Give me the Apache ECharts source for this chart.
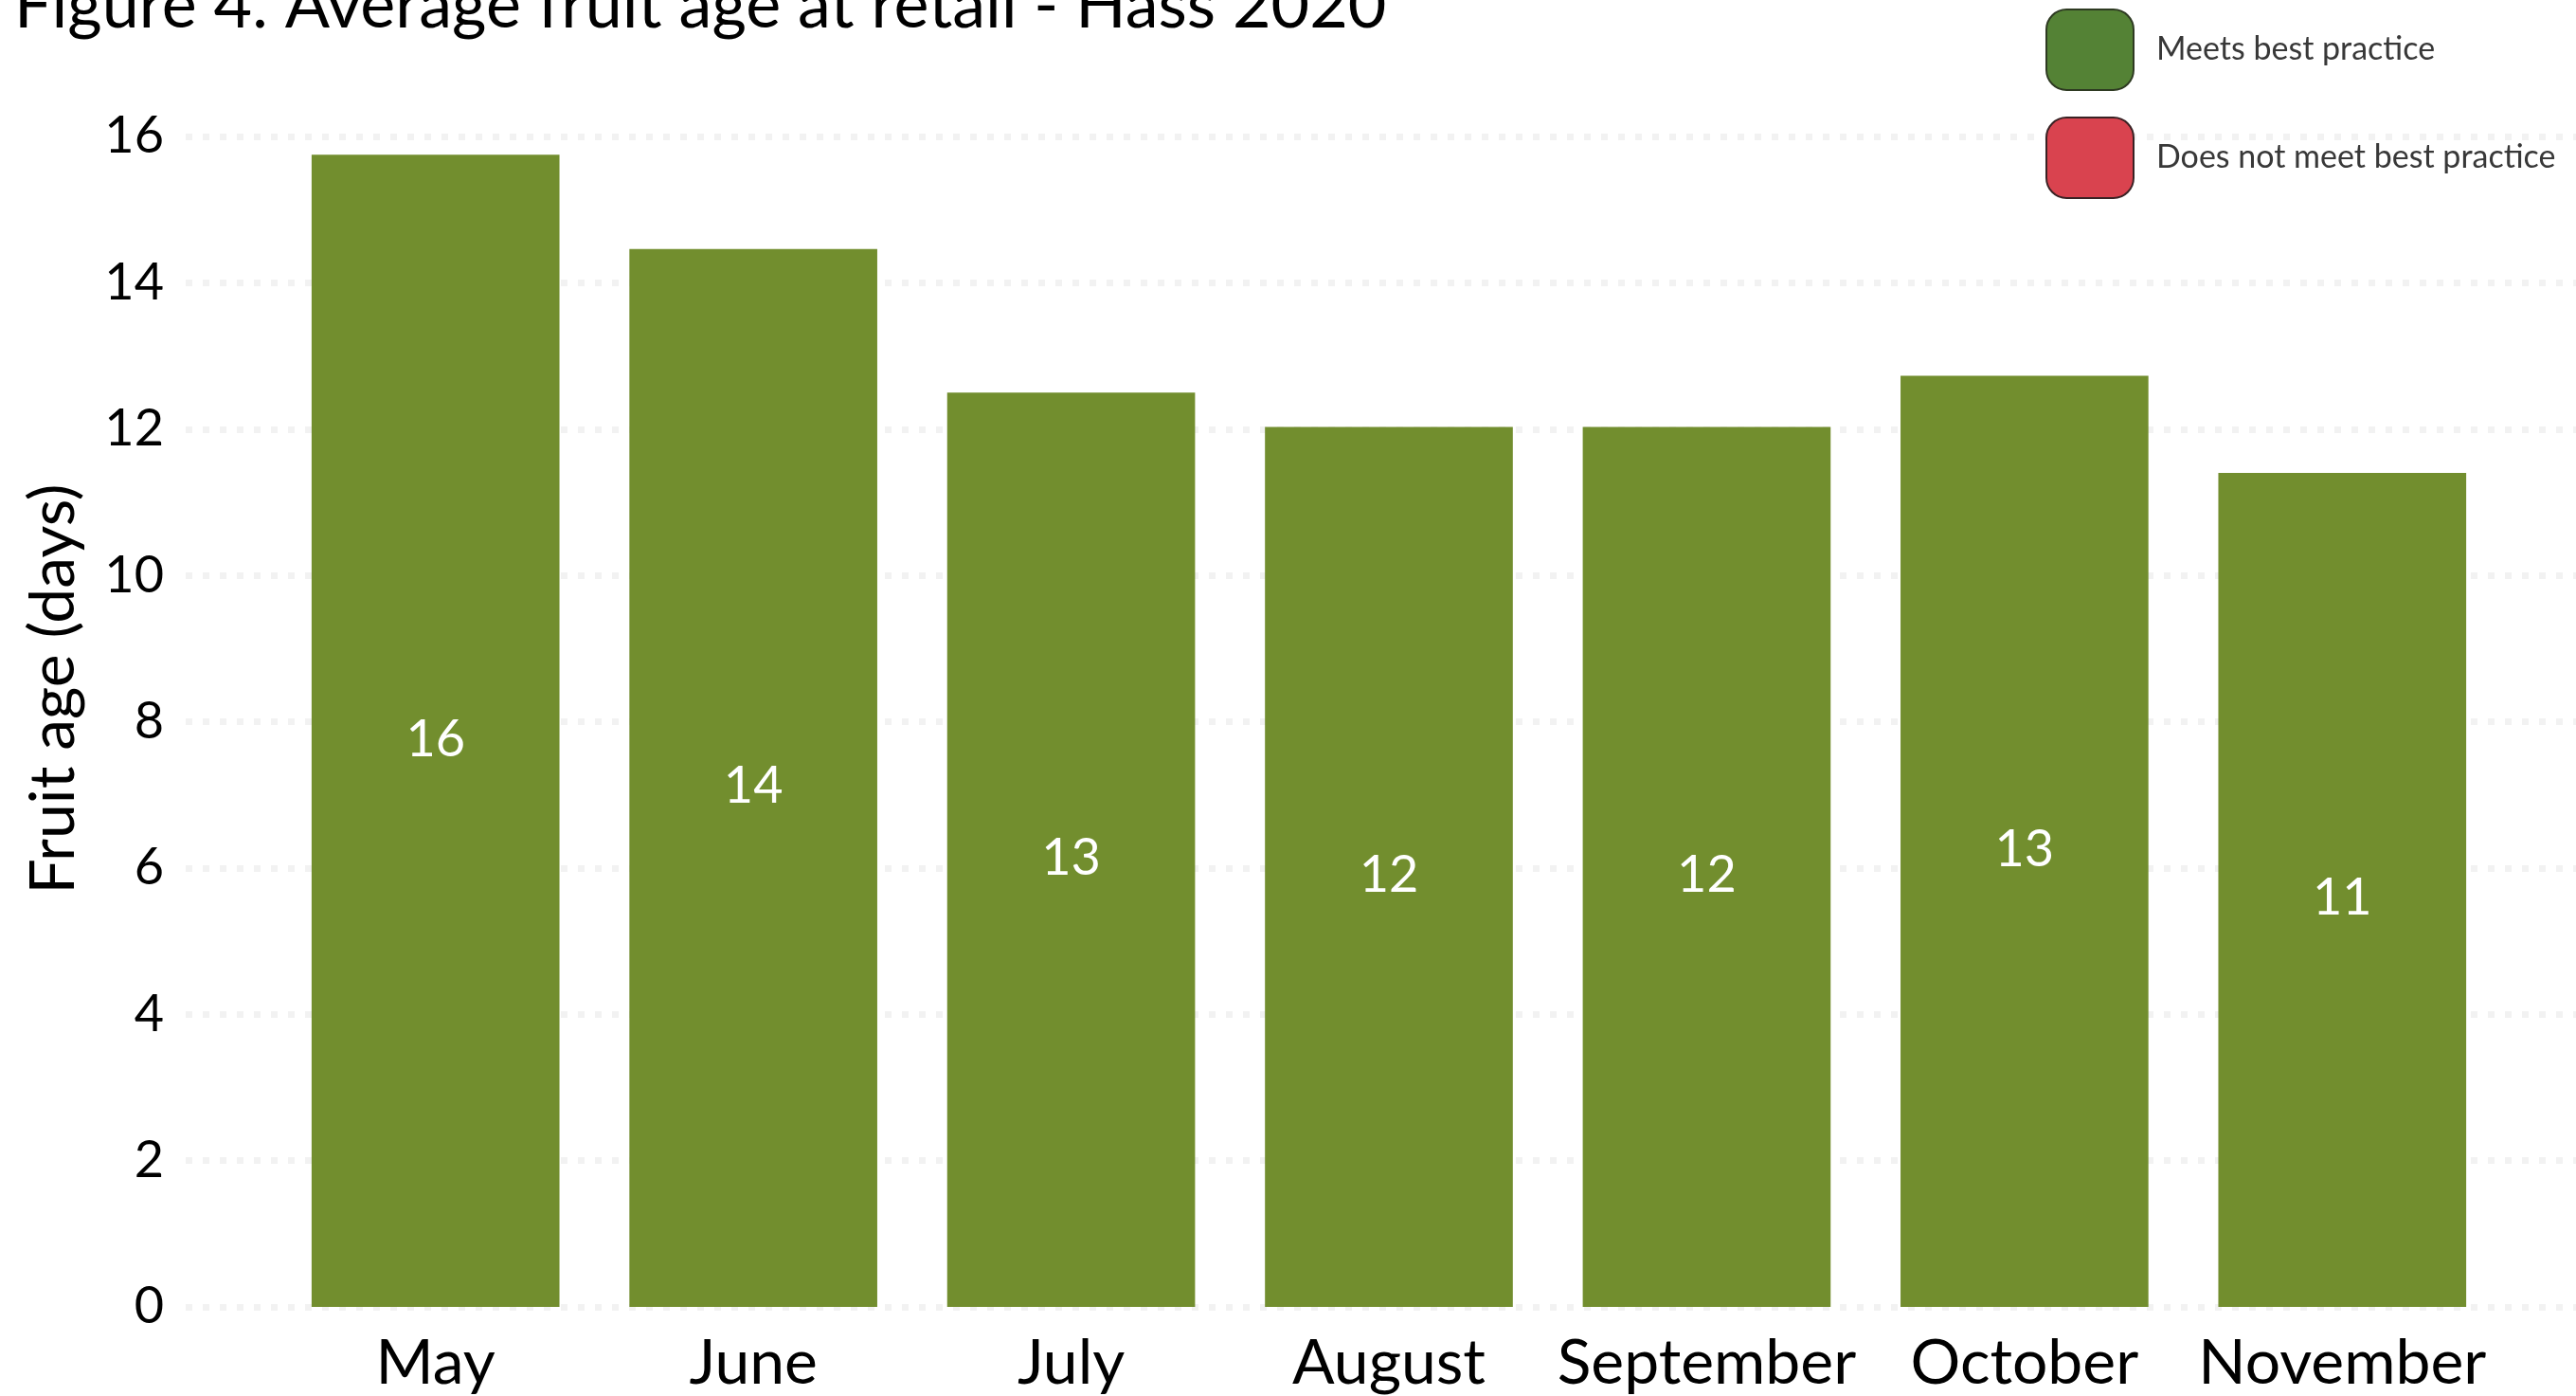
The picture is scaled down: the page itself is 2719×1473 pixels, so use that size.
<!DOCTYPE html>
<html>
<head>
<meta charset="utf-8">
<script src="https://cdn.jsdelivr.net/npm/echarts@6/dist/echarts.min.js"></script>
<style>
html,body{margin:0;padding:0;background:#fff;}
#chart{width:2719px;height:1473px;}
</style>
</head>
<body>
<div id="chart"></div>
<script>
var titleText = 'Figure 4. Average fruit age at retail - Hass 2020';
var yAxisTitle = 'Fruit age (days)';
var months = ['May', 'June', 'July', 'August', 'September', 'October', 'November'];
var fruitAge = [15.75, 14.46, 12.5, 12.03, 12.03, 12.73, 11.4];
var legendNames = ['Meets best practice', 'Does not meet best practice'];
var yTicks = [0, 2, 4, 6, 8, 10, 12, 14, 16];

var FONT = 'Lato, "Open Sans", sans-serif';
var chart = echarts.init(document.getElementById('chart'));
var option = {
  backgroundColor: '#ffffff',
  animation: false,
  title: {
    text: titleText,
    left: 10,
    top: -34,
    textStyle: { fontFamily: FONT, fontSize: 70, fontWeight: 'normal', color: '#000' }
  },
  graphic: [{
    type: 'text',
    x: 57, y: 727,
    rotation: Math.PI / 2,
    style: {
      text: yAxisTitle, fontFamily: FONT, fontSize: 66, fill: '#000',
      align: 'center', verticalAlign: 'middle'
    }
  }],
  legend: {
    orient: 'vertical',
    left: 2154,
    top: 4,
    itemWidth: 92,
    itemHeight: 85,
    itemGap: 27,
    icon: 'roundRect',
    textStyle: { fontFamily: FONT, fontSize: 34, color: '#383838', padding: [0, 0, 0, 19] },
    data: [
      { name: legendNames[0], itemStyle: { color: '#548235', borderColor: '#2e3a22', borderWidth: 2 } },
      { name: legendNames[1], itemStyle: { color: '#d9434f', borderColor: '#3a2224', borderWidth: 2 } }
    ]
  },
  grid: [
    { left: 292, right: 79, top: 144, bottom: 94 },
    { left: 196, right: 0, top: 144, bottom: 94 }
  ],
  xAxis: [
    {
      type: 'category', gridIndex: 0, data: months,
      axisLine: { show: false }, axisTick: { show: false },
      axisLabel: { fontFamily: FONT, fontSize: 66, color: '#000', margin: 27, interval: 0 }
    },
    { type: 'category', gridIndex: 1, data: months, show: false }
  ],
  yAxis: [
    {
      type: 'value', gridIndex: 0, min: 0, max: 16, interval: 2,
      axisLine: { show: false }, axisTick: { show: false },
      axisLabel: { show: false }, splitLine: { show: false }
    },
    {
      type: 'value', gridIndex: 1, min: yTicks[0], max: yTicks[yTicks.length - 1], interval: 2,
      axisLine: { show: false }, axisTick: { show: false },
      axisLabel: { fontFamily: FONT, fontSize: 54, color: '#000', margin: 23 },
      splitLine: { show: true, lineStyle: { color: '#f2f2f2', width: 7, type: [7, 11] } }
    }
  ],
  series: [
    {
      name: legendNames[0], type: 'bar', xAxisIndex: 0, yAxisIndex: 0,
      data: fruitAge, barCategoryGap: '22%', z: 3,
      itemStyle: { color: '#728e2e' },
      label: {
        show: true, position: 'inside', color: '#fff', offset: [0, 9],
        fontFamily: FONT, fontSize: 54,
        formatter: function (p) { return Math.round(p.value); }
      }
    },
    {
      name: legendNames[1], type: 'bar', xAxisIndex: 1, yAxisIndex: 1,
      data: [], itemStyle: { color: '#d9434f' }
    }
  ]
};
chart.setOption(option);
</script>
</body>
</html>
